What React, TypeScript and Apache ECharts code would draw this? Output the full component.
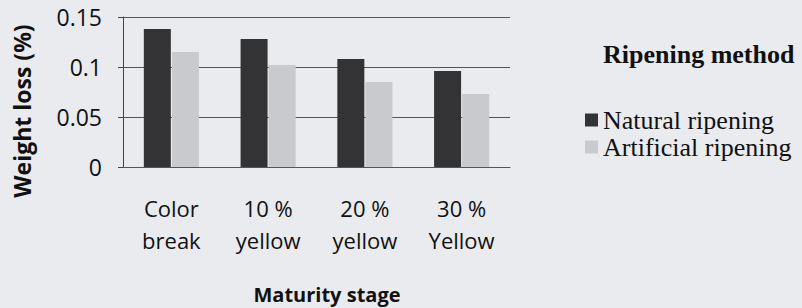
import React, { useEffect, useRef } from "react";
import * as echarts from "echarts";

const categories = ["Color\nbreak", "10 %\nyellow", "20 %\nyellow", "30 %\nYellow"];
const naturalRipening = [0.138, 0.128, 0.108, 0.096];
const artificialRipening = [0.115, 0.102, 0.085, 0.073];
const yTicks = { min: 0, max: 0.15, interval: 0.05 };
const seriesNames = ["Natural ripening", "Artificial ripening"];

export default function App() {
  const ref = useRef<HTMLDivElement>(null);
  useEffect(() => {
    document.body.style.margin = "0";
    const chart = echarts.init(ref.current!, null, { renderer: "svg" });
    chart.setOption({
      animation: false,
      backgroundColor: "#e9ebee",
      grid: { left: 123, right: 292, top: 17, bottom: 141 },
      xAxis: {
        type: "category",
        data: categories,
        axisLine: { show: true, lineStyle: { color: "#555", width: 1 } },
        axisTick: { show: false },
        axisLabel: {
          fontFamily: "Open Sans",
          fontSize: 22,
          color: "#111",
          lineHeight: 32,
          margin: 25,
          interval: 0,
        },
      },
      yAxis: {
        type: "value",
        min: yTicks.min,
        max: yTicks.max,
        interval: yTicks.interval,
        axisLine: { show: true, lineStyle: { color: "#444", width: 1 } },
        axisTick: { show: true, inside: false, length: 5, lineStyle: { color: "#444" } },
        splitLine: { show: true, lineStyle: { color: "#555", width: 1 } },
        axisLabel: {
          fontFamily: "Open Sans",
          fontSize: 23,
          color: "#111",
          margin: 21,
          formatter: (v: number) => String(Number(v.toFixed(2))),
        },
      },
      legend: {
        orient: "vertical",
        left: 585,
        top: 107,
        padding: 0,
        itemGap: 1,
        itemWidth: 13,
        itemHeight: 13,
        icon: "rect",
        data: seriesNames,
        textStyle: {
          fontFamily: "Liberation Serif",
          fontSize: 26,
          color: "#111",
          lineHeight: 26,
        },
      },
      graphic: [
        {
          type: "text",
          left: 603,
          top: 41,
          style: {
            text: "Ripening method",
            fontFamily: "Liberation Serif",
            fontWeight: "bold",
            fontSize: 26,
            fill: "#111",
          },
        },
        {
          type: "text",
          x: 327,
          y: 294,
          style: {
            text: "Maturity stage",
            fontFamily: "Open Sans",
            fontWeight: "bold",
            fontSize: 20,
            fill: "#111",
            align: "center",
            verticalAlign: "middle",
          },
        },
        {
          type: "text",
          x: 22,
          y: 111,
          rotation: Math.PI / 2,
          style: {
            text: "Weight loss (%)",
            fontFamily: "Open Sans",
            fontWeight: "bold",
            fontSize: 23,
            fill: "#111",
            align: "center",
            verticalAlign: "middle",
          },
        },
      ],
      series: [
        {
          name: seriesNames[0],
          type: "bar",
          data: naturalRipening,
          barWidth: 27,
          barGap: "4%",
          itemStyle: { color: "#333335" },
        },
        {
          name: seriesNames[1],
          type: "bar",
          data: artificialRipening,
          barWidth: 27,
          itemStyle: { color: "#c9cacd" },
        },
      ],
    });
    return () => chart.dispose();
  }, []);
  return <div ref={ref} style={{ width: 802, height: 308 }} />;
}
